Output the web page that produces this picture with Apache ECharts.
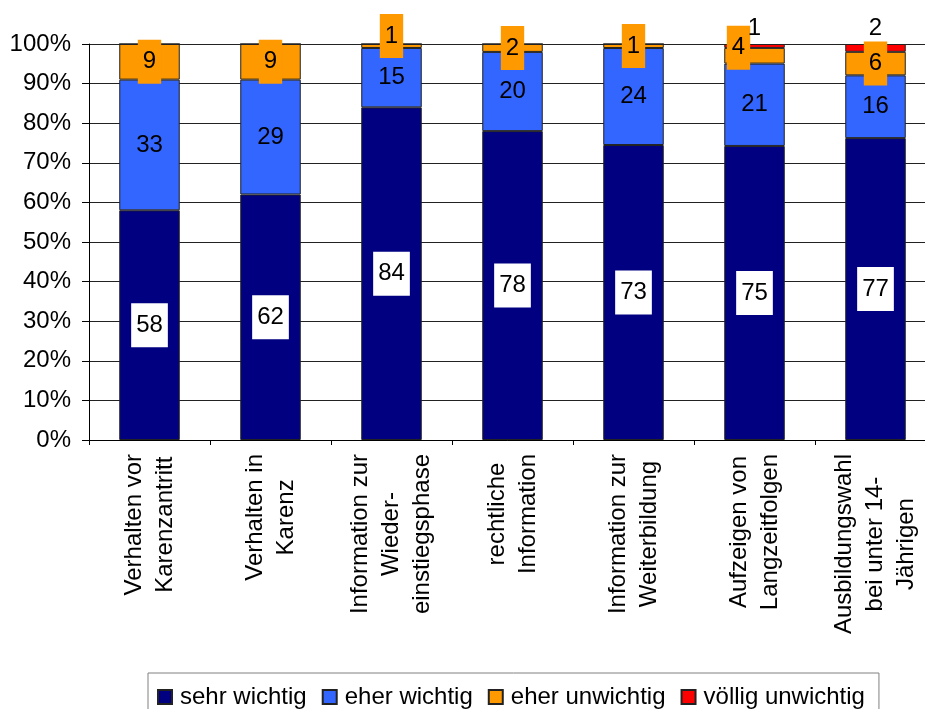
<!DOCTYPE html>
<html>
<head>
<meta charset="utf-8">
<script src="https://cdn.jsdelivr.net/npm/echarts@6/dist/echarts.min.js"></script>
<style>
html,body{margin:0;padding:0;background:#fff;}
#chart{width:925px;height:709px;}
</style>
</head>
<body>
<div id="chart"></div>
<script>
var categories = [
  "Verhalten vor\nKarenzantritt",
  "Verhalten in\nKarenz",
  "Information zur\nWieder-\neinstiegsphase",
  "rechtliche\nInformation",
  "Information zur\nWeiterbildung",
  "Aufzeigen von\nLangzeitfolgen",
  "Ausbildungswahl\nbei unter 14-\nJährigen"
];
var seriesNames = ["sehr wichtig", "eher wichtig", "eher unwichtig", "völlig unwichtig"];
var sehrWichtig    = [58, 62, 84, 78, 73, 75, 77];
var eherWichtig    = [33, 29, 15, 20, 24, 21, 16];
var eherUnwichtig  = [9, 9, 1, 2, 1, 4, 6];
var voelligUnwichtig = [0, 0, 0, 0, 0, 1, 2];
var yTicks = [0, 10, 20, 30, 40, 50, 60, 70, 80, 90, 100];

var raw = [sehrWichtig, eherWichtig, eherUnwichtig, voelligUnwichtig];
var colors = ["#000080", "#3366FF", "#FF9900", "#FF0000"];
var totals = categories.map(function (c, i) {
  return raw.reduce(function (s, arr) { return s + arr[i]; }, 0);
});
var FONT = "'Liberation Sans', Arial, sans-serif";

function pctData(arr) {
  return arr.map(function (v, i) { return v / totals[i] * 100; });
}
function labelFor(arr) {
  return function (p) { var v = arr[p.dataIndex]; return v ? String(v) : ''; };
}

var baseLabel = {
  show: true, color: '#000', fontSize: 24, fontFamily: FONT, lineHeight: 24
};

var series = [
  {
    name: seriesNames[0], type: 'bar', stack: 'a', barWidth: '50%',
    data: pctData(sehrWichtig),
    itemStyle: { color: colors[0], borderColor: '#222', borderWidth: 1 },
    label: Object.assign({}, baseLabel, {
      position: 'inside', backgroundColor: '#fff', padding: [10, 5, 10, 5],
      formatter: labelFor(sehrWichtig)
    })
  },
  {
    name: seriesNames[1], type: 'bar', stack: 'a',
    data: pctData(eherWichtig),
    itemStyle: { color: colors[1], borderColor: '#222', borderWidth: 1 },
    label: Object.assign({}, baseLabel, {
      position: 'inside', formatter: labelFor(eherWichtig)
    })
  },
  {
    name: seriesNames[2], type: 'bar', stack: 'a',
    data: pctData(eherUnwichtig).map(function (v, i) {
      var item = { value: v };
      if (i === 2) item.label = { offset: [0, -10] };
      if (i === 5) item.label = { offset: [-16, -8] };
      return item;
    }),
    itemStyle: { color: colors[2], borderColor: '#222', borderWidth: 1 },
    label: Object.assign({}, baseLabel, {
      position: 'inside', backgroundColor: colors[2], padding: [10, 5, 10, 5],
      formatter: labelFor(eherUnwichtig)
    })
  },
  {
    name: seriesNames[3], type: 'bar', stack: 'a',
    data: pctData(voelligUnwichtig),
    itemStyle: { color: colors[3], borderColor: '#222', borderWidth: 1 },
    label: Object.assign({}, baseLabel, {
      position: 'top', distance: 4, formatter: labelFor(voelligUnwichtig)
    })
  }
];

var option = {
  animation: false,
  backgroundColor: '#fff',
  textStyle: { fontFamily: FONT },
  grid: { left: 89, top: 44, width: 847, height: 396, containLabel: false, outerBoundsMode: 'none' },
  legend: {
    data: seriesNames,
    left: 148, top: 673,
    orient: 'horizontal',
    padding: [12, 14, 12, 9],
    borderColor: '#808080', borderWidth: 1,
    itemWidth: 14, itemHeight: 14, itemGap: 15,
    icon: 'rect',
    textStyle: { color: '#000', fontSize: 24, fontFamily: FONT, padding: [0, 0, 0, 3] }
  },
  xAxis: {
    type: 'category',
    data: categories,
    axisLine: { lineStyle: { color: '#000', width: 1 } },
    axisTick: { show: true, length: 5, lineStyle: { color: '#000' } },
    axisLabel: {
      interval: 0, rotate: 90, margin: 14,
      color: '#000', fontSize: 24, fontFamily: FONT,
      formatter: function (v) {
        return v.split('\n').map(function (l) { return '{c|' + l + '}'; }).join('\n');
      },
      rich: { c: { align: 'center', fontSize: 24, lineHeight: 31, color: '#000', fontFamily: FONT } }
    }
  },
  yAxis: {
    type: 'value', min: yTicks[0], max: yTicks[yTicks.length - 1], interval: 10,
    axisLine: { show: true, lineStyle: { color: '#000', width: 1 } },
    axisTick: { show: true, length: 7, lineStyle: { color: '#000' } },
    axisLabel: { color: '#000', fontSize: 24, fontFamily: FONT, margin: 18, formatter: '{value}%' },
    splitLine: { show: true, lineStyle: { color: '#222', width: 1 } }
  },
  series: series
};

var chart = echarts.init(document.getElementById('chart'), null, { renderer: 'canvas' });
chart.setOption(option);
</script>
</body>
</html>
